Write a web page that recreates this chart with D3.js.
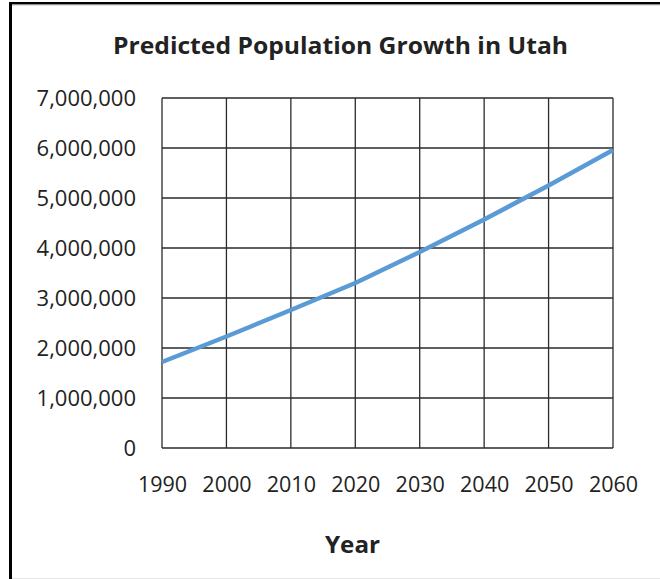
<!DOCTYPE html>
<html>
<head>
<meta charset="utf-8">
<script src="https://cdn.jsdelivr.net/npm/d3@7"></script>
<style>
  html, body { margin: 0; padding: 0; background: #fff; }
  svg { display: block; }
  text { font-family: "Open Sans", "DejaVu Sans", sans-serif; fill: #222; }
</style>
</head>
<body>
<svg id="chart" width="660" height="579"></svg>
<script>
const years = [1990, 2000, 2010, 2020, 2030, 2040, 2050, 2060];
const population = [1720000, 2230000, 2760000, 3300000, 3920000, 4570000, 5250000, 5960000];
const yTicks = [0, 1000000, 2000000, 3000000, 4000000, 5000000, 6000000, 7000000];
const titleText = "Predicted Population Growth in Utah";
const xTitle = "Year";

const svg = d3.select("#chart");
const W = 660, H = 579;
const plot = { left: 162, right: 613, top: 98, bottom: 448 };

// frame
svg.append("line").attr("x1", 9).attr("x2", W).attr("y1", 3.2).attr("y2", 3.2)
  .attr("stroke", "#000").attr("stroke-width", 2.6);
svg.append("line").attr("x1", W).attr("x2", 12).attr("y1", 4.8).attr("y2", 4.8)
  .attr("stroke", "#999").attr("stroke-width", 1);
svg.append("line").attr("x1", 10.5).attr("x2", 10.5).attr("y1", 2).attr("y2", H)
  .attr("stroke", "#000").attr("stroke-width", 3);
svg.append("line").attr("x1", 12).attr("x2", W).attr("y1", 578.5).attr("y2", 578.5)
  .attr("stroke", "#e4e4e4").attr("stroke-width", 1);

const x = d3.scaleLinear().domain([1990, 2060]).range([plot.left, plot.right]);
const y = d3.scaleLinear().domain([0, 7000000]).range([plot.bottom, plot.top]);

// gridlines
const g = svg.append("g");
g.selectAll("line.h").data(yTicks).join("line")
  .attr("x1", plot.left).attr("x2", plot.right)
  .attr("y1", d => y(d)).attr("y2", d => y(d))
  .attr("stroke", "#2a2a2a").attr("stroke-width", 1.3);
g.selectAll("line.v").data(years).join("line")
  .attr("y1", plot.top).attr("y2", plot.bottom)
  .attr("x1", d => x(d)).attr("x2", d => x(d))
  .attr("stroke", "#2a2a2a").attr("stroke-width", 1.3);

// y axis labels
const yAxis = d3.axisLeft(y).tickValues(yTicks).tickSize(0).tickPadding(26)
  .tickFormat(d3.format(","));
const ya = svg.append("g").attr("transform", `translate(${plot.left},0)`).call(yAxis);
ya.select(".domain").remove();
ya.selectAll("text").attr("font-size", 22).attr("fill", "#222")
  .attr("font-family", "'Open Sans', sans-serif").attr("dy", "0.36em");

// x axis labels
const xAxis = d3.axisBottom(x).tickValues(years).tickSize(0).tickPadding(29)
  .tickFormat(d3.format("d"));
const xa = svg.append("g").attr("transform", `translate(0,${plot.bottom})`).call(xAxis);
xa.select(".domain").remove();
xa.selectAll("text").attr("font-size", 21.5).attr("fill", "#222")
  .attr("font-family", "'Open Sans', sans-serif").attr("dy", "0.71em");

// line
const data = years.map((yr, i) => ({ yr, v: population[i] }));
svg.append("path").datum(data)
  .attr("fill", "none").attr("stroke", "#5b9bd5").attr("stroke-width", 4.5)
  .attr("stroke-linejoin", "round")
  .attr("d", d3.line().x(d => x(d.yr)).y(d => y(d.v)));

// title
const t = svg.append("text").attr("x", 340.5).attr("y", 54)
  .attr("text-anchor", "middle").attr("font-size", 23.5).attr("font-weight", "bold")
  .text(titleText);
t.attr("textLength", 455).attr("lengthAdjust", "spacingAndGlyphs");

const yt = svg.append("text").attr("x", 352.5).attr("y", 553)
  .attr("text-anchor", "middle").attr("font-size", 23).attr("font-weight", "bold")
  .text(xTitle);
yt.attr("textLength", 55).attr("lengthAdjust", "spacingAndGlyphs");
</script>
</body>
</html>
